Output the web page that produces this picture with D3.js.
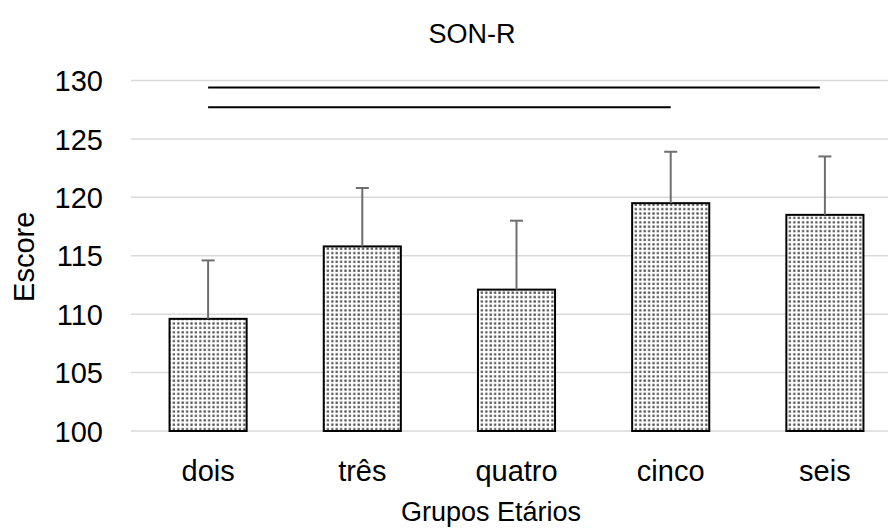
<!DOCTYPE html>
<html>
<head>
<meta charset="utf-8">
<script src="https://cdn.jsdelivr.net/npm/d3@7"></script>
<style>
  html, body { margin: 0; padding: 0; background: #fff; }
  svg { display: block; }
  text { font-family: "Liberation Sans", Arial, sans-serif; fill: #000; }
</style>
</head>
<body>
<svg id="chart" width="888" height="528"></svg>
<script>
// ---- data ----
const categories = ["dois", "três", "quatro", "cinco", "seis"];
const means = [109.6, 115.8, 112.1, 119.5, 118.5];
const errors = [5.0, 5.0, 5.9, 4.4, 5.0];
const yTicks = [100, 105, 110, 115, 120, 125, 130];
const sigFrom = ["dois", "dois"];
const sigTo = ["seis", "cinco"];
const sigLevel = [129.4, 127.7];
const title = "SON-R";
const xTitle = "Grupos Etários";
const yTitle = "Escore";

// ---- layout ----
const plotL = 131, plotR = 902, plotT = 80.5, plotB = 431;
const fontFam = '"Liberation Sans", Arial, sans-serif';
const fs = 29;

const svg = d3.select("#chart");

const defs = svg.append("defs");
const pat = defs.append("pattern")
  .attr("id", "dots").attr("patternUnits", "userSpaceOnUse")
  .attr("width", 4.4).attr("height", 4.4);
pat.append("rect").attr("width", 4.4).attr("height", 4.4).attr("fill", "#fff");
pat.append("rect").attr("x", 1.2).attr("y", 1.2).attr("width", 2.2).attr("height", 2.2).attr("fill", "#4a4a4a");

const x = d3.scaleBand().domain(categories).range([plotL, plotR]).paddingInner(0.5).paddingOuter(0.25);
const y = d3.scaleLinear().domain([100, 130]).range([plotB, plotT]);

// gridlines
svg.append("g").selectAll("line").data(yTicks).join("line")
  .attr("x1", plotL).attr("x2", plotR)
  .attr("y1", d => y(d)).attr("y2", d => y(d))
  .attr("stroke", "#d9d9d9").attr("stroke-width", 1.5);

// y axis labels
const yAxis = d3.axisLeft(y).tickValues(yTicks).tickSize(0).tickPadding(0);
const gy = svg.append("g").attr("transform", `translate(103,0)`).call(yAxis);
gy.select(".domain").remove();
gy.selectAll("text").style("font-size", fs + "px").attr("dy", "0.35em")
  .style("font-family", fontFam).attr("fill", "#000");

// x axis labels
const xAxis = d3.axisBottom(x).tickSize(0).tickPadding(0);
const gx = svg.append("g").attr("transform", `translate(0,${plotB + 50})`).call(xAxis);
gx.select(".domain").remove();
gx.selectAll("text").style("font-size", fs + "px").attr("dy", 0)
  .style("font-family", fontFam).attr("fill", "#000");

// bars
svg.append("g").selectAll("rect").data(categories).join("rect")
  .attr("x", d => x(d)).attr("width", x.bandwidth())
  .attr("y", (d, i) => y(means[i]))
  .attr("height", (d, i) => y(100) - y(means[i]))
  .attr("fill", "url(#dots)").attr("stroke", "#000").attr("stroke-width", 2);

// error bars
const eb = svg.append("g").attr("stroke", "#6e6e6e").attr("stroke-width", 2);
categories.forEach((c, i) => {
  const cx = x(c) + x.bandwidth() / 2;
  eb.append("line").attr("x1", cx).attr("x2", cx)
    .attr("y1", y(means[i])).attr("y2", y(means[i] + errors[i]));
  eb.append("line").attr("x1", cx - 6.5).attr("x2", cx + 6.5)
    .attr("y1", y(means[i] + errors[i])).attr("y2", y(means[i] + errors[i]));
});

// significance lines
sigLevel.forEach((lv, i) => {
  svg.append("line")
    .attr("x1", x(sigFrom[i]) + x.bandwidth() / 2)
    .attr("x2", x(sigTo[i]) + x.bandwidth() / 2 - (i === 0 ? 5 : 0))
    .attr("y1", y(lv)).attr("y2", y(lv))
    .attr("stroke", "#000").attr("stroke-width", 2);
});

// titles
svg.append("text").attr("x", 472).attr("y", 43).attr("text-anchor", "middle")
  .style("font-size", "27px").text(title);
svg.append("text").attr("x", 491).attr("y", 521).attr("text-anchor", "middle")
  .style("font-size", "27px").text(xTitle);
svg.append("text").attr("transform", `translate(34,${(plotT + plotB) / 2 + 1}) rotate(-90)`)
  .attr("text-anchor", "middle").style("font-size", fs + "px").text(yTitle);
</script>
</body>
</html>
